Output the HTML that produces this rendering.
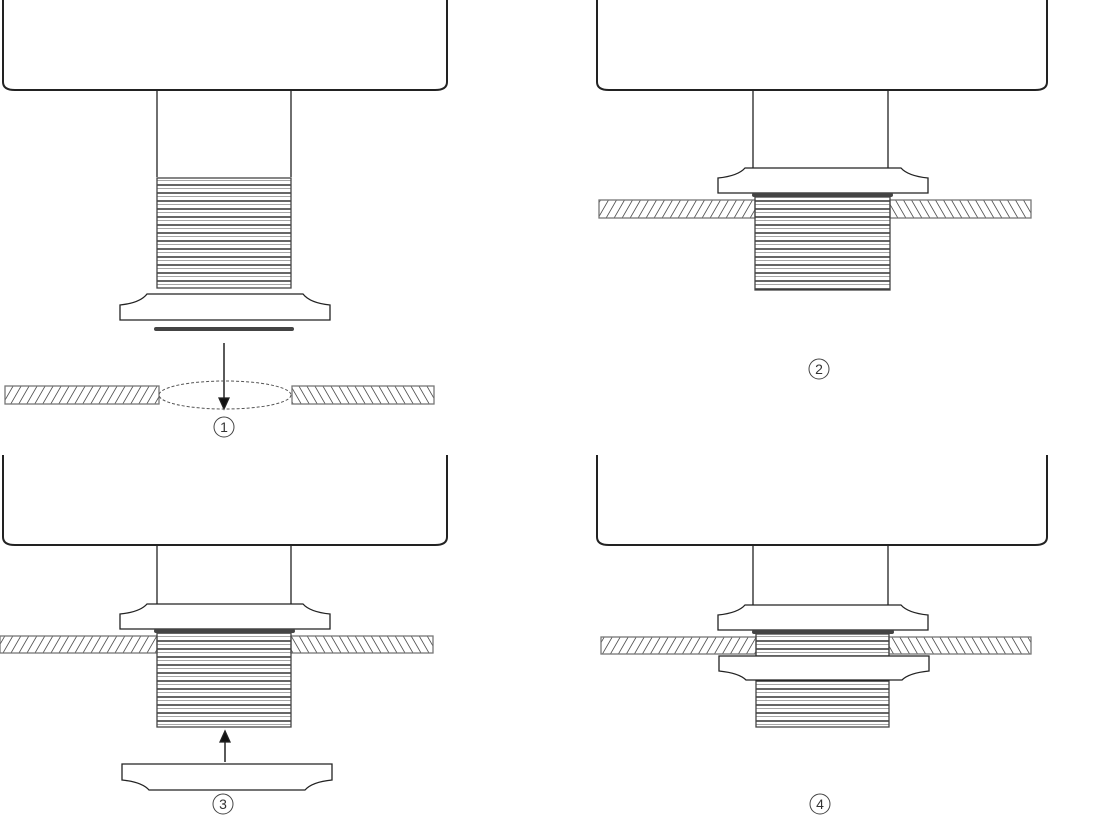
<!DOCTYPE html>
<html><head><meta charset="utf-8"><style>html,body{margin:0;padding:0;background:#fff}svg{display:block}</style></head><body>
<svg width="1109" height="824" viewBox="0 0 1109 824" xmlns="http://www.w3.org/2000/svg">
<defs>
<pattern id="hl" patternUnits="userSpaceOnUse" width="8" height="20" patternTransform="skewX(-30)"><line x1="4" y1="0" x2="4" y2="20" stroke="#555" stroke-width="1"/></pattern>
<pattern id="hr" patternUnits="userSpaceOnUse" width="8" height="20" patternTransform="skewX(30)"><line x1="4" y1="0" x2="4" y2="20" stroke="#555" stroke-width="1"/></pattern>
<pattern id="th" patternUnits="userSpaceOnUse" width="200" height="8"><line x1="0" y1="1" x2="200" y2="1" stroke="#333" stroke-width="1.4"/><line x1="0" y1="4.5" x2="200" y2="4.5" stroke="#888" stroke-width="0.8"/></pattern>
</defs>
<g fill="none" stroke="#222" stroke-width="1.3">
<!-- Panel 1 -->
<path d="M3,0 L3,82 Q3,90 15,90 L435,90 Q447,90 447,82 L447,0" stroke-width="2"/>
<path d="M157,90 L157,177 M291,90 L291,177"/>
<rect x="157" y="178" width="134" height="110" fill="url(#th)" stroke="#444"/>
<path d="M120,320 L120,305 Q140,303 147,294 L303,294 Q310,303 330,305 L330,320 Z"/>
<rect x="154" y="327" width="140" height="4" rx="2" fill="#444" stroke="none"/>
<line x1="224" y1="343" x2="224" y2="400" stroke-width="1.5"/>
<path d="M219,398 L224,409 L229,398 Z" fill="#111"/>
<rect x="5" y="386" width="154" height="18" fill="url(#hl)" stroke="#777"/>
<rect x="292" y="386" width="142" height="18" fill="url(#hr)" stroke="#777"/>
<ellipse cx="225" cy="395" rx="66" ry="14" stroke="#555" stroke-dasharray="3,2" stroke-width="1"/>
<!-- Panel 2 -->
<path d="M597,0 L597,82 Q597,90 609,90 L1035,90 Q1047,90 1047,82 L1047,0" stroke-width="2"/>
<path d="M753,90 L753,168 M888,90 L888,168"/>
<rect x="599" y="200" width="156" height="18" fill="url(#hl)" stroke="#777"/>
<rect x="890" y="200" width="141" height="18" fill="url(#hr)" stroke="#777"/>
<rect x="755" y="197" width="135" height="93" fill="url(#th)" stroke="#444"/>
<path d="M718,193 L718,178 Q738,176 745,168 L901,168 Q908,176 928,178 L928,193 Z" fill="#fff"/>
<rect x="752" y="193" width="141" height="4" rx="2" fill="#444" stroke="none"/>
<!-- Panel 3 -->
<path d="M3,455 L3,537 Q3,545 15,545 L435,545 Q447,545 447,537 L447,455" stroke-width="2"/>
<path d="M157,545 L157,604 M291,545 L291,604"/>
<rect x="0" y="636" width="157" height="17" fill="url(#hl)" stroke="#777"/>
<rect x="291" y="636" width="142" height="17" fill="url(#hr)" stroke="#777"/>
<rect x="157" y="632" width="134" height="95" fill="url(#th)" stroke="#444"/>
<path d="M120,629 L120,614 Q140,612 147,604 L303,604 Q310,612 330,614 L330,629 Z" fill="#fff"/>
<rect x="154" y="629" width="141" height="4" rx="2" fill="#444" stroke="none"/>
<line x1="225" y1="762" x2="225" y2="740" stroke-width="1.5"/>
<path d="M220,742 L225,731 L230,742 Z" fill="#111"/>
<path d="M122,764 L332,764 L332,780 Q312,782 305,790 L149,790 Q142,782 122,780 Z"/>
<!-- Panel 4 -->
<path d="M597,455 L597,537 Q597,545 609,545 L1035,545 Q1047,545 1047,537 L1047,455" stroke-width="2"/>
<path d="M753,545 L753,605 M888,545 L888,605"/>
<rect x="601" y="637" width="155" height="17" fill="url(#hl)" stroke="#777"/>
<rect x="889" y="637" width="142" height="17" fill="url(#hr)" stroke="#777"/>
<rect x="756" y="634" width="133" height="22" fill="url(#th)" stroke="#444"/>
<rect x="756" y="680" width="133" height="47" fill="url(#th)" stroke="#444"/>
<path d="M718,630 L718,615 Q738,613 745,605 L901,605 Q908,613 928,615 L928,630 Z" fill="#fff"/>
<rect x="752" y="630" width="142" height="4" rx="2" fill="#444" stroke="none"/>
<path d="M719,656 L929,656 L929,671 Q909,673 902,680 L746,680 Q739,673 719,671 Z" fill="#fff"/>
</g>
<g font-family="Liberation Sans, DejaVu Sans, sans-serif" font-size="14" fill="#333" text-anchor="middle">
<circle cx="224" cy="427" r="10" fill="none" stroke="#444"/><text x="224" y="432">1</text>
<circle cx="819" cy="369" r="10" fill="none" stroke="#444"/><text x="819" y="374">2</text>
<circle cx="223" cy="804" r="10" fill="none" stroke="#444"/><text x="223" y="809">3</text>
<circle cx="820" cy="804" r="10" fill="none" stroke="#444"/><text x="820" y="809">4</text>
</g>
</svg>
</body></html>
